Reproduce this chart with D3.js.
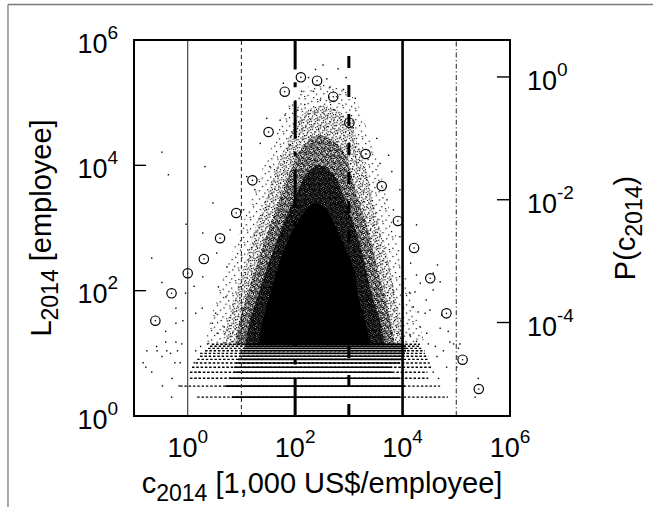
<!DOCTYPE html>
<html><head><meta charset="utf-8">
<script src="https://cdn.jsdelivr.net/npm/d3@7"></script>
<style>
body{margin:0;background:#fff}
svg{display:block}
text{font-family:"Liberation Sans",Arial,Helvetica,sans-serif;fill:#000}
</style>
</head><body>
<svg id="chart" width="653" height="507"></svg>
<script>
// ---------------- data ----------------
const xTickValues = [1, 100, 1e4, 1e6];
const xTickExponents = ["0", "2", "4", "6"];
const yTickValues = [1, 100, 1e4, 1e6];
const yTickExponents = ["0", "2", "4", "6"];
const pTickValues = [1, 1e-2, 1e-4];
const pTickExponents = ["0", "-2", "-4"];

// distribution P(c2014): logarithmic bins (open circles)
const binCenters = [0.25, 0.5, 1, 2, 4, 8, 16, 32, 64, 128, 256, 512, 1024, 2048, 4096, 8192, 16384, 32768, 65536, 131072, 262144];
const binProb = [1.07e-4, 2.99e-4, 6.34e-4, 1.08e-3, 2.36e-3, 6.08e-3, 2.07e-2, 0.127, 0.575, 0.987, 0.869, 0.477, 0.180, 0.0556, 0.0167, 4.51e-3, 1.64e-3, 5.25e-4, 1.41e-4, 2.48e-5, 8.26e-6];

// vertical reference lines at c = 1 ... 1e5
const refLineC = [1, 10, 100, 1000, 1e4, 1e5];
const refLineStyle = ["thin", "dash", "dashdot", "longdash", "thick", "dotdash"];

// scatter cloud: density contours (outer -> inner), points are [log10 c, log10 L]
const cloudLevel5 = [[0.32,1.13],[0.42,1.53],[0.56,1.93],[0.71,2.33],[0.88,2.73],[1.05,3.13],[1.22,3.53],[1.38,3.93],[1.57,4.32],[1.76,4.72],[1.98,5.12],[2.48,5.30],[3.04,5.12],[3.28,4.72],[3.43,4.32],[3.58,3.93],[3.69,3.53],[3.80,3.13],[3.92,2.73],[4.05,2.33],[4.16,1.93],[4.29,1.53],[4.42,1.13]];
const cloudLevel4 = [[0.64,1.13],[0.75,1.53],[0.88,1.93],[1.03,2.33],[1.16,2.73],[1.31,3.13],[1.48,3.53],[1.64,3.93],[1.83,4.32],[2.02,4.72],[2.50,4.96],[3.02,4.72],[3.17,4.32],[3.32,3.93],[3.43,3.53],[3.54,3.13],[3.66,2.73],[3.77,2.33],[3.86,1.93],[3.95,1.53],[4.05,1.13]];
const cloudLevel3 = [[0.88,1.13],[0.97,1.53],[1.10,1.93],[1.25,2.33],[1.40,2.73],[1.57,3.13],[1.74,3.53],[1.92,3.93],[2.09,4.24],[2.46,4.48],[2.89,4.24],[3.02,3.93],[3.15,3.53],[3.30,3.13],[3.43,2.73],[3.54,2.33],[3.66,1.93],[3.77,1.53],[3.86,1.13]];
const cloudLevel2 = [[1.07,1.13],[1.16,1.53],[1.31,1.93],[1.46,2.33],[1.63,2.73],[1.81,3.13],[2.02,3.53],[2.20,3.85],[2.43,4.00],[2.72,3.85],[2.89,3.53],[3.06,3.13],[3.21,2.73],[3.32,2.33],[3.43,1.93],[3.58,1.53],[3.67,1.13]];
const cloudCore = [[1.31,1.13],[1.40,1.53],[1.53,1.93],[1.66,2.33],[1.83,2.73],[2.02,3.05],[2.20,3.29],[2.39,3.40],[2.59,3.29],[2.74,3.05],[2.91,2.73],[3.10,2.33],[3.17,1.93],[3.30,1.53],[3.40,1.13]];

// firms with small integer L: rows of points
const rowL = [2, 3, 4, 5, 6, 7, 8, 9, 10, 11, 12, 13, 14];
const rowSolidFrom = [6.7, 5.0, 5.9, 7.3, 7.3, 7.9, 8.6, 9.4, 9.4, 10, 11, 12, 13];
const rowSolidTo = [9000, 11000, 9000, 6400, 6400, 9000, 9800, 10700, 11100, 11600, 11600, 11600, 10700];
const rowDotFrom = [1.5, 0.72, 1.1, 1.1, 1.2, 1.4, 1.5, 1.7, 1.7, 2.1, 2.4, 2.6, 2.8];
const rowDotTo = [70000, 50000, 30000, 29000, 35000, 32000, 30000, 30000, 26000, 26000, 23000, 21000, 21000];

// isolated firms, [log10 c, log10 L]
const outliers = [
[-0.48,4.21],[-0.36,3.85],[0.32,3.98],[0.47,3.40],[-0.03,3.06],[0.28,2.92],[-0.67,2.52],[-0.48,2.13],[0.12,2.07],[0.28,2.22],
[-0.22,1.72],[-0.09,1.52],[-0.04,1.96],[0.15,1.64],[0.27,1.72],[-0.22,1.48],[-0.41,1.35],[-0.41,1.18],[-0.22,1.18],[-0.11,1.15],
[-0.58,1.11],[-0.76,1.04],[-0.39,1.04],[-0.57,1.04],[-0.32,1.00],[-0.19,1.04],[-0.83,0.85],[-0.78,0.78],[-0.67,0.70],[-0.48,0.95],
[-0.24,0.85],[-0.14,0.85],[0.12,0.85],[0.21,0.70],[-0.47,0.48],[-0.29,0.60],[-0.16,0.48],[-0.30,0.30],[0.15,1.04],[0.24,1.11],
[0.37,1.15],[0.54,2.60],[0.73,2.38],[0.57,2.06],[0.71,1.90],[0.52,1.64],[0.46,1.48],[0.55,1.32],[0.68,1.42],[0.79,2.97],
[1.04,3.29],[1.10,3.82],[1.35,4.35],[1.47,4.75],[1.81,4.80],[1.78,5.31],
[2.38,5.53],[2.80,5.54],[2.59,5.38],[2.12,5.18],[2.34,5.18],[2.65,5.25],[2.90,5.21],[3.12,5.07],[2.18,4.97],[1.91,4.33],
[1.53,3.98],[1.25,3.61],[3.08,4.60],[1.72,4.72],[2.47,5.04],[2.74,4.88],[2.05,4.88],[2.25,5.40],[2.95,5.40],[2.52,5.60],
[3.52,4.43],[3.74,4.16],[3.80,3.90],[3.58,4.03],[3.71,3.45],[3.83,3.29],[3.95,3.61],[4.26,3.05],[3.95,2.86],[4.15,2.44],
[4.26,2.25],[4.33,2.12],[4.65,2.41],[4.57,2.28],[4.70,2.14],[4.57,2.01],[4.14,1.96],[4.23,1.98],[4.44,1.85],[4.20,1.74],
[4.29,1.66],[4.42,1.64],[4.51,1.69],[4.73,1.61],[4.33,1.42],[4.45,1.32],[4.70,1.40],[4.85,1.35],[4.14,1.29],[4.26,1.19],
[4.48,1.15],[4.61,1.11],[4.88,1.18],[5.07,1.15],[5.04,1.08],[4.76,1.04],[4.95,1.15],[4.64,0.95],[5.01,0.95],[4.82,0.78],
[5.01,0.78],[4.57,0.70],[4.67,0.60],[5.01,0.60],[5.41,0.60],[5.35,0.30]
];

// ---------------- chart ----------------
const svg = d3.select("#chart");
const W = 653, H = 507;
const plot = {left: 134, right: 510, top: 40, bottom: 416};

const x = d3.scaleLog().domain([0.1, 1e6]).range([plot.left, plot.right]);
const y = d3.scaleLog().domain([1, 1e6]).range([plot.bottom, plot.top]);
const yP = d3.scaleLog().domain([3e-6, 4]).range([plot.bottom, plot.top]);

// figure frame (top & left border of the crop)
svg.append("line").attr("x1", 8).attr("x2", W).attr("y1", 4.5).attr("y2", 4.5).attr("stroke", "#7a7a7a").attr("stroke-width", 1.3);
svg.append("line").attr("x1", 8).attr("x2", 8).attr("y1", 4.5).attr("y2", H).attr("stroke", "#7a7a7a").attr("stroke-width", 1.3);

const defs = svg.append("defs");
defs.append("clipPath").attr("id", "clip").append("rect")
  .attr("x", plot.left).attr("y", plot.top)
  .attr("width", plot.right - plot.left).attr("height", plot.bottom - plot.top);

function stipple(id, size, dots, rot) {
  const p = defs.append("pattern").attr("id", id).attr("patternUnits", "userSpaceOnUse")
    .attr("width", size).attr("height", size).attr("patternTransform", `rotate(${rot})`);
  p.selectAll("rect").data(dots).join("rect")
    .attr("x", d => d[0]).attr("y", d => d[1]).attr("width", 1.2).attr("height", 1.2).attr("fill", "#000");
}
stipple("st5", 13, [[1,2],[7,1],[11,5],[4,7],[9,10],[2,11],[6,12]], 13);
stipple("st4", 8, [[0,0],[4,1],[2,3],[6,3],[1,5],[5,6],[3,7],[7,5],[6,0]], -9);
stipple("st3", 6, [[0,0],[2,0],[4,1],[1,2],[3,2],[5,3],[0,4],[2,4],[4,5],[1,5],[3,0],[5,1]], 7);
stipple("st2", 5, [[0,0],[1,0],[3,0],[2,1],[4,1],[0,2],[1,2],[3,2],[2,3],[4,3],[0,4],[1,3],[3,4],[4,4],[2,0],[0,1]], -4);

const g = svg.append("g").attr("clip-path", "url(#clip)");

const outlinePath = d3.line()
  .x(d => x(Math.pow(10, d[0])))
  .y(d => y(Math.pow(10, d[1])))
  .curve(d3.curveCatmullRom);

[[cloudLevel5, "url(#st5)"], [cloudLevel4, "url(#st4)"], [cloudLevel3, "url(#st3)"], [cloudLevel2, "url(#st2)"], [cloudCore, "#000"]]
  .forEach(([pts, fill]) => {
    g.append("path").attr("d", outlinePath(pts) + "Z").attr("fill", fill).attr("stroke", "none");
  });

// rows of integer L
const rows = rowL.map((L, i) => ({L, s0: rowSolidFrom[i], s1: rowSolidTo[i], d0: rowDotFrom[i], d1: rowDotTo[i]}));
g.selectAll("line.rowdot").data(rows).join("line").attr("class", "rowdot")
  .attr("x1", d => x(d.d0)).attr("x2", d => x(d.d1))
  .attr("y1", d => y(d.L)).attr("y2", d => y(d.L))
  .attr("stroke", "#000").attr("stroke-width", 1.4).attr("stroke-dasharray", "2.5 1.8");
g.selectAll("line.rowsolid").data(rows).join("line").attr("class", "rowsolid")
  .attr("x1", d => x(d.s0)).attr("x2", d => x(d.s1))
  .attr("y1", d => y(d.L)).attr("y2", d => y(d.L))
  .attr("stroke", "#000").attr("stroke-width", 1.6);

// isolated points
g.selectAll("rect.pt").data(outliers).join("rect").attr("class", "pt")
  .attr("x", d => x(Math.pow(10, d[0])) - 0.7).attr("y", d => y(Math.pow(10, d[1])) - 0.7)
  .attr("width", 1.4).attr("height", 1.4).attr("fill", "#000");

// reference vertical lines (drawn from bottom to top so the dash phase starts at the axis)
const styles = {
  thin: {w: 1.1, dash: null, color: "#333"},
  dash: {w: 1.1, dash: "4 3", color: "#333"},
  dashdot: {w: 3, dash: "38 13.5 5 12.8", color: "#000"},
  longdash: {w: 3, dash: "12 17", color: "#000"},
  thick: {w: 2.6, dash: null, color: "#000"},
  dotdash: {w: 1.1, dash: "5 2.5 1.2 2.5", color: "#333"}
};
refLineC.forEach((c, i) => {
  const s = styles[refLineStyle[i]];
  g.append("line").attr("x1", x(c)).attr("x2", x(c)).attr("y1", plot.bottom).attr("y2", plot.top)
    .attr("stroke", s.color).attr("stroke-width", s.w).attr("stroke-dasharray", s.dash);
});

// P(c) circles
const circ = svg.append("g");
circ.selectAll("circle.p").data(binCenters).join("circle").attr("class", "p")
  .attr("cx", d => x(d)).attr("cy", (d, i) => yP(binProb[i])).attr("r", 4.7)
  .attr("fill", "none").attr("stroke", "#000").attr("stroke-width", 1.2);
circ.selectAll("circle.c").data(binCenters).join("circle").attr("class", "c")
  .attr("cx", d => x(d)).attr("cy", (d, i) => yP(binProb[i])).attr("r", 0.8).attr("fill", "#000");

// frame
svg.append("rect").attr("x", plot.left).attr("y", plot.top)
  .attr("width", plot.right - plot.left).attr("height", plot.bottom - plot.top)
  .attr("fill", "none").attr("stroke", "#000").attr("stroke-width", 2);

// ticks
svg.selectAll("line.yt").data(yTickValues).join("line").attr("class", "yt")
  .attr("x1", plot.left).attr("x2", plot.left + 12).attr("y1", d => y(d)).attr("y2", d => y(d))
  .attr("stroke", "#000").attr("stroke-width", 1.4);
svg.selectAll("line.ptk").data(pTickValues).join("line").attr("class", "ptk")
  .attr("x1", plot.right).attr("x2", plot.right - 13).attr("y1", d => yP(d)).attr("y2", d => yP(d))
  .attr("stroke", "#000").attr("stroke-width", 1.4);

function powLabel(sel, exps) {
  sel.append("tspan").text("10");
  sel.append("tspan").attr("dy", -14).attr("font-size", 19).text((d, i) => exps[i]);
}
const yl = svg.selectAll("text.yl").data(yTickValues).join("text").attr("class", "yl")
  .attr("x", 118).attr("y", d => y(d) + 12.5).attr("text-anchor", "end").attr("font-size", 27);
powLabel(yl, yTickExponents);
const pl = svg.selectAll("text.pl").data(pTickValues).join("text").attr("class", "pl")
  .attr("x", 527).attr("y", d => yP(d) + 13).attr("text-anchor", "start").attr("font-size", 27);
powLabel(pl, pTickExponents);
const xl = svg.selectAll("text.xl").data(xTickValues).join("text").attr("class", "xl")
  .attr("x", d => x(d)).attr("y", 457).attr("text-anchor", "middle").attr("font-size", 27);
powLabel(xl, xTickExponents);

// axis titles
const xt = svg.append("text").attr("x", (plot.left + plot.right) / 2).attr("y", 493)
  .attr("text-anchor", "middle").attr("font-size", 29);
xt.append("tspan").text("c");
xt.append("tspan").attr("dy", 8).attr("font-size", 23).text("2014");
xt.append("tspan").attr("dy", -8).text(" [1,000 US$/employee]");

const ytl = svg.append("text").attr("transform", `translate(51,${(plot.top + plot.bottom) / 2}) rotate(-90)`)
  .attr("text-anchor", "middle").attr("font-size", 29);
ytl.append("tspan").text("L");
ytl.append("tspan").attr("dy", 7).attr("font-size", 23).text("2014");
ytl.append("tspan").attr("dy", -7).text(" [employee]");

const ytr = svg.append("text").attr("transform", `translate(635,${(plot.top + plot.bottom) / 2}) rotate(-90)`)
  .attr("text-anchor", "middle").attr("font-size", 29);
ytr.append("tspan").text("P(c");
ytr.append("tspan").attr("dy", 7).attr("font-size", 23).text("2014");
ytr.append("tspan").attr("dy", -7).text(")");
</script>
</body></html>
